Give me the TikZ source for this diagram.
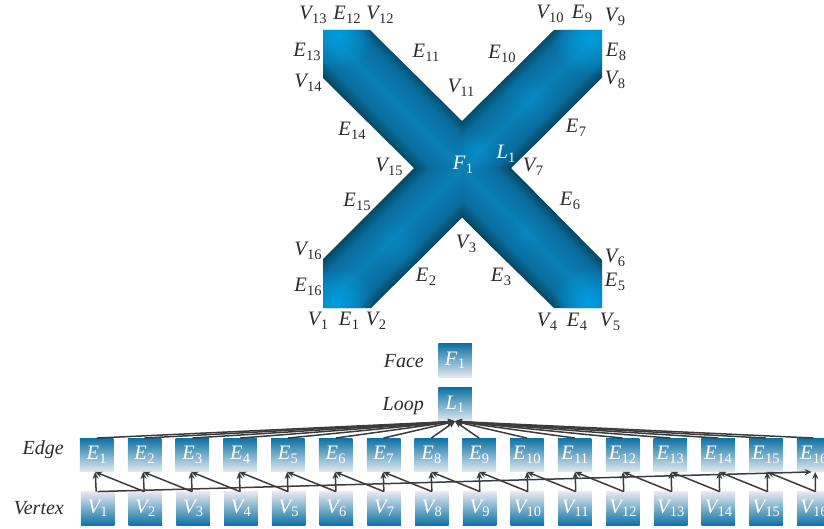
\documentclass[tikz,border=0pt]{standalone}
\usepackage{fontspec}
\setmainfont{Liberation Serif}
\usetikzlibrary{arrows.meta,fadings}
\definecolor{armdark}{HTML}{03465F}
\definecolor{armmid}{HTML}{0A6C9E}
\definecolor{armlight}{HTML}{0B7FB6}
\definecolor{glowblue}{HTML}{009EDE}
\definecolor{boxdark}{HTML}{0E72A6}
\definecolor{boxlight}{HTML}{E4E9EE}
\definecolor{inktext}{HTML}{2B2B2B}
\definecolor{arrowink}{HTML}{3C3C3C}
\pgfdeclareverticalshading{armshade}{100bp}{color(0bp)=(armdark); color(25bp)=(armdark); color(34bp)=(armmid); color(50bp)=(armlight); color(66bp)=(armmid); color(75bp)=(armdark); color(100bp)=(armdark)}
\tikzfading[name=glowfade, inner color=transparent!0, outer color=transparent!100]
\newcommand\lab[2]{{\itshape #1}\kern.3pt\raisebox{-3.5pt}{\fontsize{14.5}{14.5}\selectfont #2}}
\tikzset{
  lbl/.style={inner sep=0pt,text=inktext,font=\fontsize{20.5}{20.5}\selectfont},
  inlbl/.style={inner sep=0pt,text=white,font=\fontsize{20.5}{20.5}\selectfont},
  side/.style={inner sep=0pt,text=inktext,anchor=east,font=\fontsize{20}{20}\selectfont\itshape},
  downbox/.style={inner sep=0pt,minimum width=33.5pt,minimum height=33.5pt,
    top color=boxdark,bottom color=boxlight,text=white,font=\fontsize{20.5}{20.5}\selectfont},
  upbox/.style={inner sep=0pt,minimum width=33.5pt,minimum height=33.5pt,
    top color=boxlight,bottom color=boxdark,text=white,font=\fontsize{20.5}{20.5}\selectfont},
  link/.style={draw=arrowink,line width=1.5pt,-{Stealth[length=7pt,width=6pt]}},
  glow/.style={fill=glowblue,path fading=glowfade}
}
\begin{document}
\begin{tikzpicture}[x=1pt,y=-1pt]
\useasboundingbox (0,0) rectangle (824,529);
% the X shaped face
\begin{scope}
  \clip (323,308)--(371,308)--(462,218)--(554,308)--(602,308)--(602,260)--(511,168)--(602,79)--(602,30)--(554,30)--(462,121)--(370,30)--(323,30)--(323,78)--(414,168)--(323,259)--cycle;
  \begin{scope}
    \clip (300,168) rectangle (462,330);
    \begin{scope}[transform canvas={rotate around={45:(462,168)}}]
      \shade[shading=armshade] (212,133) rectangle (712,203);
    \end{scope}
  \end{scope}
  \begin{scope}
    \clip (462,0) rectangle (630,168);
    \begin{scope}[transform canvas={rotate around={45:(462,168)}}]
      \shade[shading=armshade] (212,133) rectangle (712,203);
    \end{scope}
  \end{scope}
  \begin{scope}
    \clip (300,0) rectangle (462,168);
    \begin{scope}[transform canvas={rotate around={-45:(462,168)}}]
      \shade[shading=armshade] (212,133) rectangle (712,203);
    \end{scope}
  \end{scope}
  \begin{scope}
    \clip (462,168) rectangle (630,330);
    \begin{scope}[transform canvas={rotate around={-45:(462,168)}}]
      \shade[shading=armshade] (212,133) rectangle (712,203);
    \end{scope}
  \end{scope}
  \fill[glow] (338,303) circle (36);
  \fill[glow] (588,303) circle (36);
  \fill[glow] (338,35) circle (36);
  \fill[glow] (590,38) circle (38);
  \fill[glow,opacity=.35] (398,246) circle (26);
  \fill[glow,opacity=.3] (530,100) circle (30);
  \fill[glow,opacity=.2] (525,235) circle (26);
  \fill[glow,opacity=.45] (476,152) circle (24);
\end{scope}
% labels round the face
\foreach \nm/\x/\y/\a/\b in {
 a13/313/15/V/13,a12/347/15/E/12,b12/380/15/V/12,b10/550/14/V/10,a9/582/14/E/9,b9/615/17/V/9,
 a13e/307/52/E/13,b14/308/83/V/14,a11/426/53/E/11,a10/502/54/E/10,b11/461/88/V/11,a8/616/52/E/8,b8/615/80/V/8,
 a14/352/131/E/14,a7/576/128/E/7,b15/389/167/V/15,b7/533/167/V/7,a15/357/202/E/15,a6/570/201/E/6,
 b16/308/251/V/16,b3/466/244/V/3,b6/615/258/V/6,a2/426/277/E/2,a3/501/277/E/3,a5/615/282/E/5,a16/308/287/E/16,
 b1/318/321/V/1,a1/349/321/E/1,b2/376/321/V/2,b4/547/322/V/4,a4/577/322/E/4,b5/610/322/V/5}
  \node[lbl] (lab\nm) at (\x,\y) {\lab{\a}{\b}};
\node[inlbl] (labF) at (463,165) {\lab{F}{1}};
\node[inlbl] (labL) at (506,154) {\lab{L}{1}};
% hierarchy
\node[side] (tface) at (424,361) {Face};
\node[side] (tloop) at (424,406) {Loop};
\node[side] (tedge) at (64,450) {Edge};
\node[side] (tvert) at (64,508) {Vertex};
\node[downbox] (f1) at (455,360.5) {\lab{F}{1}};
\node[downbox] (l1) at (455,404.5) {\lab{L}{1}};
\foreach \i in {1,...,16}{
  \pgfmathsetmacro{\ex}{96.7+47.8*(\i-1)}
  \pgfmathsetmacro{\vx}{97.7+47.75*(\i-1)}
  \node[downbox] (e\i) at (\ex,455) {\lab{E}{\i}};
  \node[upbox] (v\i) at (\vx,508.5) {\lab{V}{\i}};
}
\foreach \i in {1,...,16}{
  \draw[link] (e\i.north) -- (l1.south);
}
\draw[link] (v1.north) -- ([xshift=-2pt]e16.south);
\foreach \i in {1,...,16}{
  \pgfmathsetmacro{\sh}{0.2*(\i-1)-1.5}
  \draw[link] ([xshift=\sh pt]v\i.north) -- ([xshift=\sh pt]e\i.south);
}
\foreach \i/\j in {1/2,2/3,3/4,4/5,5/6,6/7,7/8,8/9,9/10,10/11,11/12,12/13,13/14,14/15,15/16}{
  \pgfmathsetmacro{\sh}{0.2*(\j-1)-1.5}
  \pgfmathsetmacro{\sg}{0.2*(\i-1)-1.5}
  \draw[link] ([xshift=\sh pt]v\j.north) -- ([xshift=\sg pt]e\i.south);
}
\end{tikzpicture}
\end{document}
